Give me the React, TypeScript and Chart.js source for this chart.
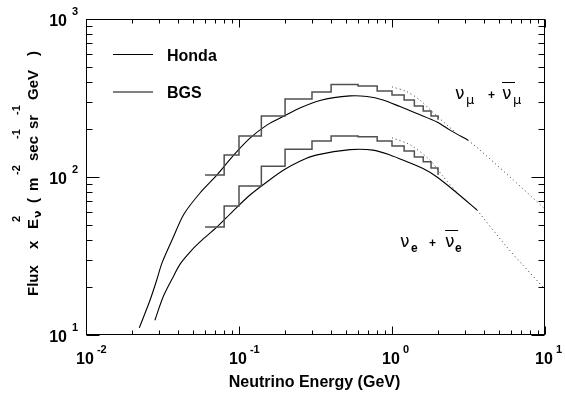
import React, { useEffect, useRef } from "react";
import { Chart, registerables } from "chart.js";

Chart.register(...registerables);

// Axis ranges (log-log)
const X_MIN = 0.01;
const X_MAX = 10;
const Y_MIN = 10;
const Y_MAX = 1000;
const X_DECADES = [-2, -1, 0, 1];
const Y_DECADES = [1, 2, 3];

// Honda smooth flux, nu_mu + nubar_mu (GeV, flux x E^2)
const hondaMuE = [0.0223, 0.0262, 0.029, 0.0314, 0.037, 0.0437, 0.0556, 0.0718, 0.0914, 0.118, 0.152, 0.197, 0.25, 0.338, 0.532, 0.687, 0.874, 1.128, 1.457, 1.968, 2.394, 3.139];
const hondaMuF = [11.1, 16.6, 22.3, 28.6, 41.1, 58.3, 79.2, 103, 136, 176, 213, 243, 273, 305, 326, 323, 307, 279, 252, 223, 198, 171];
// Honda high-energy continuation, nu_mu
const hondaMuExtE = [3.139, 3.76, 6.21, 10];
const hondaMuExtF = [171, 148, 95.7, 62.7];

// Honda smooth flux, nu_e + nubar_e
const hondaEE = [0.0282, 0.0319, 0.0365, 0.0412, 0.0478, 0.0556, 0.0718, 0.0914, 0.118, 0.152, 0.197, 0.25, 0.324, 0.532, 0.751, 0.97, 1.253, 1.595, 1.968, 2.66, 3.594];
const hondaEF = [12.4, 17.4, 22.6, 28.1, 33.5, 38.8, 48.3, 60.9, 76.9, 93, 111, 126, 138, 149, 148, 138, 125, 113, 100, 79.2, 61.8];
// Honda high-energy continuation, nu_e
const hondaEExtE = [3.594, 5.61, 7.21, 10];
const hondaEExtF = [61.8, 36.2, 27.5, 19.5];

// BGS binned flux: bin edges and bin contents
const bgsEdges = [0.06, 0.08, 0.1, 0.14, 0.2, 0.3, 0.4, 0.6, 0.8, 1.0, 1.2, 1.4, 1.6, 1.8, 2.0];
const bgsMu = [103, 138, 182, 243, 312, 345, 385, 377, 350, 330, 307, 281, 262, 243];
const bgsMuClose = 230;
const bgsE = [48.3, 65.5, 87.7, 117, 150, 169, 182, 180, 169, 157, 146, 134, 125, 114];
const bgsEClose = 103;

// BGS continuation above 1 GeV
const bgsMuExtE = [1.0, 1.25, 1.52, 1.84, 2.29, 2.6];
const bgsMuExtF = [372, 347, 307, 258, 213, 192];
const bgsEExtE = [1.0, 1.31, 1.77, 2.16, 2.65];
const bgsEExtF = [177, 160, 128, 100.5, 80];

// Flavour label anchors (data coordinates)
const muLabelAt = { x: 2.58, y: 312 };
const eLabelAt = { x: 1.13, y: 36 };

const FONT = "'Liberation Sans', Arial, Helvetica, sans-serif";
const GREEK = "'DejaVu Sans', sans-serif";
const HIST_COLOR = "#505050";
const DOT_COLOR = "#333333";

const pts = (xs: number[], ys: number[]) => xs.map((x, i) => ({ x, y: ys[i] }));
// bin i spans edges[i]..edges[i+1]; each point carries the level of the bin ending there
const steps = (edges: number[], vals: number[], close: number) => {
  const out = [{ x: edges[0], y: vals[0] }];
  vals.forEach((v, i) => out.push({ x: edges[i + 1], y: v }));
  out.push({ x: edges[edges.length - 1], y: close });
  return out;
};

function powerLabel(ctx: CanvasRenderingContext2D, exp: number, x: number, baseline: number, align: "center" | "right") {
  ctx.font = `bold 16px ${FONT}`;
  const w = ctx.measureText("10").width;
  const left = align === "center" ? x - w / 2 : x - w;
  ctx.textAlign = "left";
  ctx.fillText("10", left, baseline);
  ctx.font = `bold 11px ${FONT}`;
  ctx.fillText(String(exp), left + w + (align === "center" ? 3 : 5), baseline - 11);
}

const framePlugin = {
  id: "frameAndLabels",
  afterDatasetsDraw(chart: any) {
    const { ctx, chartArea: a, scales } = chart;
    const xs = scales.x;
    const ys = scales.y;
    ctx.save();
    ctx.strokeStyle = "#000";
    ctx.fillStyle = "#000";
    ctx.lineWidth = 1;
    const L = Math.round(a.left) + 0.5;
    const R = Math.round(a.right) - 0.5;
    const T = Math.round(a.top) + 0.5;
    const B = Math.round(a.bottom) - 0.5;
    ctx.strokeRect(L, T, R - L, B - T);

    // inward ticks on all four sides
    ctx.beginPath();
    for (const d of X_DECADES) {
      for (let m = 1; m <= 9; m++) {
        const v = m * Math.pow(10, d);
        if (v < X_MIN || v > X_MAX) continue;
        const px = Math.round(xs.getPixelForValue(v)) + 0.5;
        const len = m === 1 ? 8 : 4;
        ctx.moveTo(px, B);
        ctx.lineTo(px, B - len);
        ctx.moveTo(px, T);
        ctx.lineTo(px, T + len);
      }
    }
    for (const d of Y_DECADES) {
      for (let m = 1; m <= 9; m++) {
        const v = m * Math.pow(10, d);
        if (v < Y_MIN || v > Y_MAX) continue;
        const py = Math.round(ys.getPixelForValue(v)) + 0.5;
        const len = m === 1 ? 13 : 6;
        ctx.moveTo(L, py);
        ctx.lineTo(L + len, py);
        ctx.moveTo(R, py);
        ctx.lineTo(R - len, py);
      }
    }
    ctx.stroke();

    // tick labels
    ctx.textBaseline = "alphabetic";
    for (const d of X_DECADES) {
      powerLabel(ctx, d, xs.getPixelForValue(Math.pow(10, d)) - 1, a.bottom + 29, "center");
    }
    for (const d of Y_DECADES) {
      powerLabel(ctx, d, a.left - 19, ys.getPixelForValue(Math.pow(10, d)) + 6.5, "right");
    }

    // x axis title
    ctx.font = `bold 16px ${FONT}`;
    ctx.textAlign = "center";
    ctx.fillText("Neutrino Energy (GeV)", (a.left + a.right) / 2 - 1, a.bottom + 52);

    // y axis title (rotated, with super/subscripts)
    ctx.save();
    ctx.translate(38, 296);
    ctx.rotate(-Math.PI / 2);
    ctx.textAlign = "left";
    const big = `bold 15px ${FONT}`;
    const small = `bold 11px ${FONT}`;
    const parts: [string, number, string, number][] = [
      ["Flux", 0, big, 0],
      ["x", 47, big, 0],
      ["E", 67, big, 0],
      ["\u03bd", 78, `bold 11px ${GREEK}`, 3],
      ["2", 74, small, -18],
      ["(", 93, big, 0],
      ["m", 105, big, 0],
      ["-2", 121, small, -18],
      ["sec", 135, big, 0],
      ["-1", 157, small, -18],
      ["sr", 167, big, 0],
      ["-1", 181, small, -18],
      ["GeV", 196, big, 0],
      [")", 240, big, 0],
    ];
    for (const [t, off, f, dy] of parts) {
      ctx.font = f;
      ctx.fillText(t, off, dy);
    }
    ctx.restore();

    // legend
    const lx0 = a.left + 27;
    const lx1 = a.left + 67;
    const ly1 = a.top + 35.5;
    const ly2 = a.top + 73;
    ctx.lineWidth = 1;
    ctx.strokeStyle = "#000";
    ctx.beginPath();
    ctx.moveTo(lx0, ly1);
    ctx.lineTo(lx1, ly1);
    ctx.stroke();
    ctx.lineWidth = 2;
    ctx.strokeStyle = "#808080";
    ctx.beginPath();
    ctx.moveTo(lx0, ly2);
    ctx.lineTo(lx1, ly2);
    ctx.stroke();
    ctx.font = `bold 16px ${FONT}`;
    ctx.textAlign = "left";
    ctx.fillText("Honda", a.left + 81, ly1 + 6);
    ctx.fillText("BGS", a.left + 81, ly2 + 6);

    // flavour labels
    const flavour = (at: { x: number; y: number }, sub: string, subFont: string, offs: number[]) => {
      const x0 = xs.getPixelForValue(at.x);
      const b = ys.getPixelForValue(at.y);
      ctx.textAlign = "left";
      ctx.font = `17px ${GREEK}`;
      ctx.fillText("\u03bd", x0 + offs[0], b);
      ctx.fillText("\u03bd", x0 + offs[3], b);
      ctx.font = subFont;
      ctx.fillText(sub, x0 + offs[1], b + 5);
      ctx.fillText(sub, x0 + offs[4], b + 5);
      ctx.font = `bold 12px ${FONT}`;
      ctx.fillText("+", x0 + offs[2], b);
      ctx.lineWidth = 1;
      ctx.strokeStyle = "#000";
      ctx.beginPath();
      ctx.moveTo(x0 + offs[3], Math.round(b - 17) + 0.5);
      ctx.lineTo(x0 + offs[3] + 13, Math.round(b - 17) + 0.5);
      ctx.stroke();
    };
    flavour(muLabelAt, "\u03bc", `13px ${GREEK}`, [0, 11, 33, 47, 58]);
    flavour(eLabelAt, "e", `bold 12px ${FONT}`, [0, 11, 29, 45, 55]);

    ctx.restore();
  },
};

export default function App() {
  const ref = useRef<HTMLCanvasElement | null>(null);

  useEffect(() => {
    if (!ref.current) return;
    const curve = (data: any[]) => ({
      data,
      borderColor: "#000",
      borderWidth: 1.1,
      pointRadius: 0,
      tension: 0.3,
      fill: false,
    });
    const dotted = (data: any[]) => ({
      data,
      borderColor: DOT_COLOR,
      borderWidth: 1,
      borderDash: [1, 3],
      pointRadius: 0,
      tension: 0.3,
      fill: false,
    });
    const hist = (data: any[]) => ({
      data,
      borderColor: HIST_COLOR,
      borderWidth: 1.5,
      pointRadius: 0,
      stepped: "after" as const,
      fill: false,
    });

    const chart = new Chart(ref.current, {
      type: "line",
      data: {
        datasets: [
          hist(steps(bgsEdges, bgsMu, bgsMuClose)),
          hist(steps(bgsEdges, bgsE, bgsEClose)),
          dotted(pts(bgsMuExtE, bgsMuExtF)),
          dotted(pts(bgsEExtE, bgsEExtF)),
          curve(pts(hondaMuE, hondaMuF)),
          curve(pts(hondaEE, hondaEF)),
          dotted(pts(hondaMuExtE, hondaMuExtF)),
          dotted(pts(hondaEExtE, hondaEExtF)),
        ] as any,
      },
      options: {
        responsive: false,
        animation: false,
        devicePixelRatio: 1,
        layout: { padding: { left: 86, right: 20, top: 19, bottom: 70 } },
        scales: {
          x: { type: "logarithmic", min: X_MIN, max: X_MAX, display: false },
          y: { type: "logarithmic", min: Y_MIN, max: Y_MAX, display: false },
        },
        plugins: { legend: { display: false }, tooltip: { enabled: false } },
        events: [],
      },
      plugins: [framePlugin],
    });
    return () => chart.destroy();
  }, []);

  return (
    <div style={{ position: "absolute", left: 0, top: 0, width: 565, height: 405, background: "#fff" }}>
      <canvas ref={ref} width={565} height={405} style={{ display: "block" }} />
    </div>
  );
}
